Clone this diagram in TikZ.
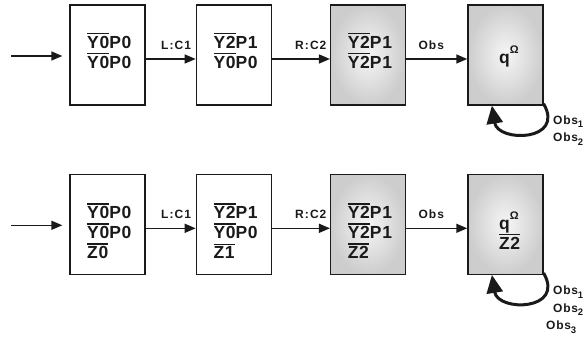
\documentclass[tikz,border=0pt]{standalone}
\usepackage{fontspec}
\setmainfont{Liberation Sans}
\usetikzlibrary{arrows.meta,positioning}
\definecolor{edgegray}{HTML}{CDCDCD}
\definecolor{centergray}{HTML}{F6F6F6}
\definecolor{linegray}{HTML}{1A1A1A}
\newcommand{\ovl}[1]{\leavevmode\vbox{\hrule height 1.3pt\kern1.6pt\hbox{#1}}}
\newcommand{\lowsub}[1]{\raisebox{-3.5pt}{\fontsize{9.5}{10}\selectfont #1}}
\newcommand{\omegasup}{\raisebox{10pt}{\fontsize{11}{11}\selectfont Ω}}

\begin{document}
\begin{tikzpicture}[
  x=1pt, y=1pt,
  >={Triangle[length=11pt,width=9pt]},
  state/.style={draw=linegray, line width=1.3pt, minimum width=75pt, minimum height=100pt, inner sep=0pt},
  obsstate/.style={state, shade, shading=radial, inner color=centergray, outer color=edgegray},
  boxtext/.style={font=\bfseries\fontsize{17.5}{20}\selectfont\addfontfeature{LetterSpace=4}, align=left, inner sep=0pt, text=linegray},
  edgelbl/.style={font=\bfseries\fontsize{12}{12}\selectfont\addfontfeature{LetterSpace=9}, text=linegray, inner sep=0pt},
  obslbl/.style={font=\bfseries\fontsize{12}{17.5}\selectfont\addfontfeature{LetterSpace=6}, align=left, inner sep=0pt, text=linegray},
  flow/.style={->, draw=linegray, line width=1.5pt},
  selfloop/.style={-{Triangle[length=18pt,width=16pt]}, draw=linegray, line width=3pt}
]
  \useasboundingbox (0,0) rectangle (586,339);

  % first run
  \node[state] (s1) at (107.5,284) {};
  \node[state, right=50pt of s1] (s2) {};
  \node[obsstate, right=58pt of s2] (s3) {};
  \node[obsstate, right=61pt of s3] (s4) {};

  \node[boxtext, anchor=north west] (s1t) at ([shift={(-20.5,22)}]s1.center) {\ovl{Y0}P0\\\ovl{Y0}P0};
  \node[boxtext, anchor=north west] (s2t) at ([shift={(-20.5,22)}]s2.center) {\ovl{Y2}P1\\\ovl{Y0}P0};
  \node[boxtext, anchor=north west] (s3t) at ([shift={(-20.5,22)}]s3.center) {\ovl{Y2}P1\\\ovl{Y2}P1};
  \node[boxtext, anchor=base west] (s4t) at ([shift={(-6.5,-9)}]s4.center) {q\omegasup};

  \coordinate (in1) at (11,284);
  \draw[flow] ([yshift=-1pt]in1) -- ([shift={(-7,-1)}]s1.west);
  \draw[flow] ([yshift=-4pt]s1.east) -- node[edgelbl, pos=0.61, above=9pt] (l1) {L:C1} ([yshift=-4pt]s2.west);
  \draw[flow] ([yshift=-4pt]s2.east) -- node[edgelbl, pos=0.67, above=9pt] (l2) {R:C2} ([yshift=-4pt]s3.west);
  \draw[flow] ([yshift=-4pt]s3.east) -- node[edgelbl, pos=0.41, above=9pt] (l3) {Obs} ([yshift=-4pt]s4.west);

  \draw[selfloop] ([yshift=2pt]s4.south east) .. controls +(22,-38) and +(6,-37) .. ([xshift=-13.5pt]s4.south);
  \node[obslbl, anchor=base west] (o1) at (553,197) {Obs\lowsub{1}\\Obs\lowsub{2}};

  % second run
  \node[state, below=68pt of s1] (z1) {};
  \node[state, below=68pt of s2] (z2) {};
  \node[obsstate, below=68pt of s3] (z3) {};
  \node[obsstate, below=68pt of s4] (z4) {};

  \node[boxtext, anchor=north west] (z1t) at ([shift={(-20.5,21)}]z1.center) {\ovl{Y0}P0\\\ovl{Y0}P0\\\ovl{Z0}};
  \node[boxtext, anchor=north west] (z2t) at ([shift={(-20.5,21)}]z2.center) {\ovl{Y2}P1\\\ovl{Y0}P0\\\ovl{Z1}};
  \node[boxtext, anchor=north west] (z3t) at ([shift={(-20.5,21)}]z3.center) {\ovl{Y2}P1\\\ovl{Y2}P1\\\ovl{Z2}};
  \node[boxtext, anchor=base west] (z4t) at ([shift={(-6.5,-25)}]z4.center) {q\omegasup\\\ovl{Z2}};

  \coordinate (in2) at (in1 |- z1.west);
  \draw[flow] ([yshift=-1pt]in2) -- ([shift={(-7,-1)}]z1.west);
  \draw[flow] ([yshift=-4pt]z1.east) -- node[edgelbl, pos=0.61, above=9pt] (m1) {L:C1} ([yshift=-4pt]z2.west);
  \draw[flow] ([yshift=-4pt]z2.east) -- node[edgelbl, pos=0.67, above=9pt] (m2) {R:C2} ([yshift=-4pt]z3.west);
  \draw[flow] ([yshift=-4pt]z3.east) -- node[edgelbl, pos=0.41, above=9pt] (m3) {Obs} ([yshift=-4pt]z4.west);

  \draw[selfloop] ([yshift=2pt]z4.south east) .. controls +(22,-38) and +(6,-37) .. ([xshift=-13.5pt]z4.south);
  \node[obslbl, anchor=base west] (o2) at (553,9) {Obs\lowsub{1}\\Obs\lowsub{2}\\\hspace*{-7pt}Obs\lowsub{3}};
\end{tikzpicture}
\end{document}
